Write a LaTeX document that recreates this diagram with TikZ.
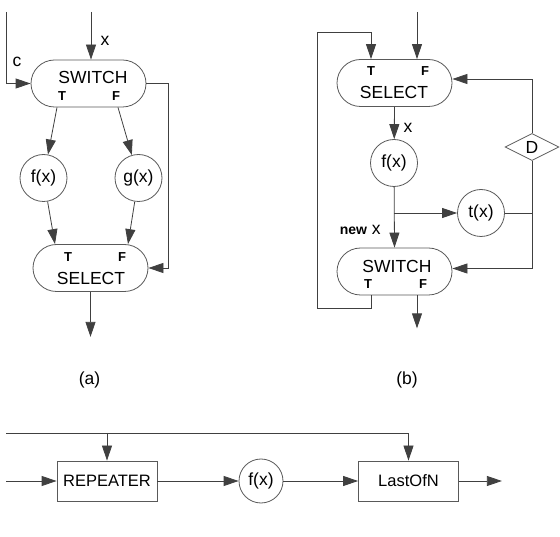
\documentclass[tikz,border=0pt]{standalone}
\usepackage{fontspec}
\setmainfont{Liberation Sans}
\usetikzlibrary{arrows.meta,shapes.geometric,calc}
\begin{document}
\begin{tikzpicture}[x=1pt,y=-1pt,line width=0.8pt,
  every node/.style={font=\fontsize{17.5}{20}\selectfont,inner sep=0pt},
  arr/.style={-{Triangle[length=15pt,width=10pt]},black!75},
  wire/.style={black!75},
  pill/.style={draw=black!65,rounded corners=23.5pt,minimum width=115pt,minimum height=47pt},
  fn/.style={draw=black!65,circle,minimum size=47pt},
  tf/.style={font=\fontsize{13}{15}\selectfont\bfseries},
  box/.style={draw=black!65,minimum width=100pt,minimum height=40pt,font=\fontsize{16.5}{19}\selectfont}]
  \useasboundingbox (0,0) rectangle (560,537);

  % (a) switch / select pair
  \node[pill] (swa) at (88.5,83.5) {};
  \node (swaN) at (93,77) {SWITCH};
  \node[tf] (swaT) at (62,96) {T};
  \node[tf] (swaF) at (116,96) {F};
  \node[fn] (fa) at (43.5,178) {f(x)};
  \node[fn] (ga) at (138.5,178) {g(x)};
  \node[pill] (sela) at (90.5,268) {};
  \node[tf] (selaT) at (68,257) {T};
  \node[tf] (selaF) at (122,257) {F};
  \node (selaN) at (91,278) {SELECT};
  \coordinate (xa) at (91,12);
  \coordinate (ca) at (6,12);
  \draw[arr] (xa) -- (xa |- swa.north);
  \node (xal) at (105,41) {x};
  \draw[arr] (ca) |- (swa.west);
  \node (cal) at (17,62) {c};
  \draw[arr] ($(swa.south)+(-31.5,0)$) -- (fa);
  \draw[arr] ($(swa.south)+(29.5,0)$) -- (ga);
  \draw[arr] (fa) -- ($(sela.north)+(-35.5,0)$);
  \draw[arr] (ga) -- ($(sela.north)+(37.5,0)$);
  \draw[arr] (swa.east) -- ++(22,0) |- (sela.east);
  \draw[arr] (sela.south) -- ++(0,45);
  \node (capa) at (89.5,380) {(a)};

  % (b) select / switch loop
  \node[pill] (selb) at (394.5,83) {};
  \node[tf] (selbT) at (371,71) {T};
  \node[tf] (selbF) at (425,71) {F};
  \node (selbN) at (394,92) {SELECT};
  \node[fn] (fb) at (394,163) {f(x)};
  \node[fn] (tb) at (481,213) {t(x)};
  \node[draw=black!65,diamond,minimum width=54pt,minimum height=27pt] (db) at (532,147) {D};
  \node[pill] (swb) at (394.5,271.5) {};
  \node (swbN) at (397,266) {SWITCH};
  \node[tf] (swbT) at (368,284) {T};
  \node[tf] (swbF) at (423,284) {F};
  \coordinate (inb) at (417,12);
  \coordinate (lpb) at (317,308);
  \coordinate (lpt) at (317,32);
  \draw[arr] (inb) -- (inb |- selb.north);
  \draw[arr] (selb.south) -- (fb);
  \node (xbl) at (408,128) {x};
  \draw[arr] (fb) -- (swb.north);
  \draw[arr] (fb.south |- tb) -- (tb);
  \node[anchor=east] (newx) at (381,230) {{\fontsize{14}{16}\selectfont\bfseries new} x};
  \draw[wire] (tb.east) -- (tb.east -| db);
  \draw[arr] (db.north) |- ($(selb.east)+(0,-4)$);
  \draw[arr] (db.south) |- ($(swb.east)+(0,-3)$);
  \draw[arr] ($(swb.south)+(-23.5,0)$) |- (lpb) -- (lpt) -| ($(selb.north)+(-23.5,0)$);
  \draw[arr] ($(swb.south)+(22.5,0)$) -- ++(0,33);
  \node (capb) at (407,380) {(b)};

  % bottom: repeater chain
  \node[box] (rep) at (107,481) {REPEATER};
  \node[fn,minimum size=44pt] (fc) at (261,481) {f(x)};
  \node[box] (lon) at (408.5,481) {LastOfN};
  \coordinate (topc) at (6,433);
  \coordinate (inc) at (6,481);
  \draw[arr] (topc) -| (lon.north);
  \draw[arr] (topc -| rep) -- (rep.north);
  \draw[arr] (inc) -- (rep.west);
  \draw[arr] (rep) -- (fc);
  \draw[arr] (fc) -- (lon);
  \draw[arr] (lon.east) -- ++(43,0);
\end{tikzpicture}
\end{document}
